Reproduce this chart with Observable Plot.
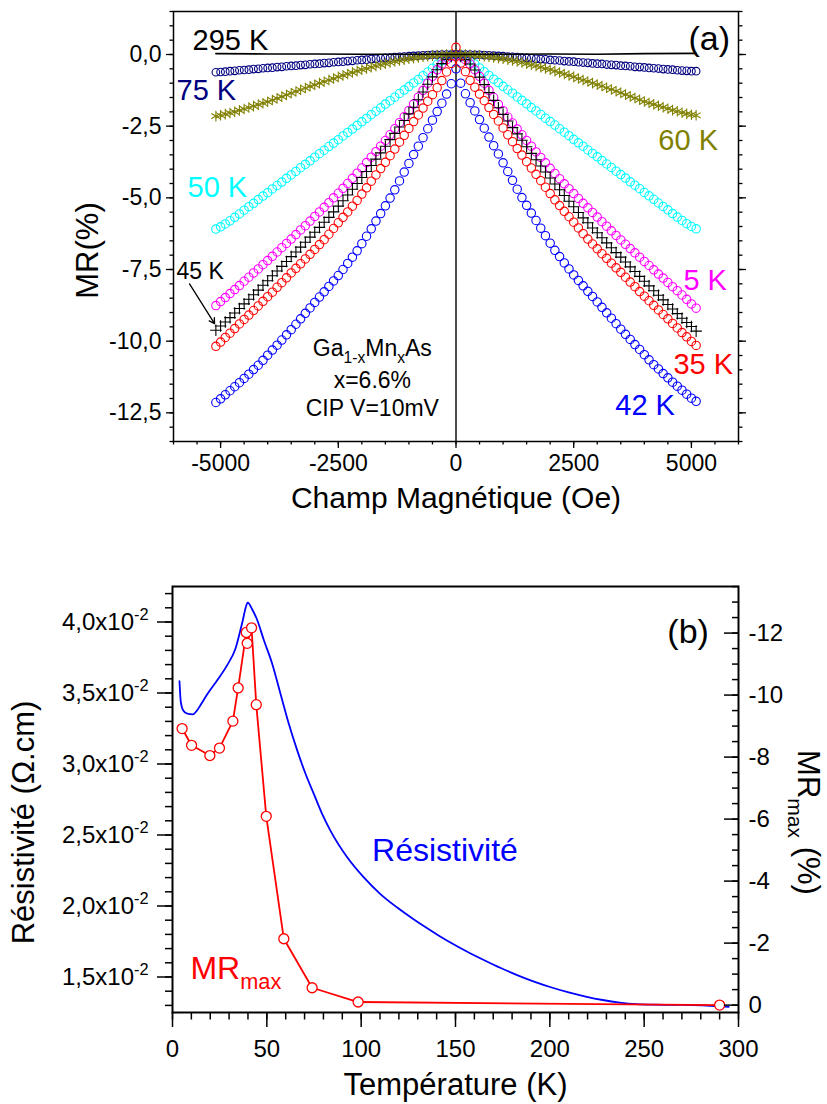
<!DOCTYPE html>
<html><head><meta charset="utf-8">
<script src="https://cdn.jsdelivr.net/npm/d3@7"></script>
<script src="https://cdn.jsdelivr.net/npm/@observablehq/plot@0.6"></script>
<style>
html,body{margin:0;padding:0;background:#fff;}
#chart{position:relative;width:827px;height:1104px;background:#fff;}
#chart svg{display:block;}
</style></head><body><div id="chart"></div>
<script>
const FONT = "'Liberation Sans', Arial, Helvetica, sans-serif";

// ---------- Panel (a): MR(%) vs field (Oe) ----------
const field = [-5100,-5000,-4900,-4800,-4700,-4600,-4500,-4400,-4300,-4200,-4100,-4000,-3900,-3800,-3700,-3600,-3500,-3400,-3300,-3200,-3100,-3000,-2900,-2800,-2700,-2600,-2500,-2400,-2300,-2200,-2100,-2000,-1900,-1800,-1700,-1600,-1500,-1400,-1300,-1200,-1100,-1000,-900,-800,-700,-600,-500,-400,-300,-200,-100,
  0,
  100,200,300,400,500,600,700,800,900,1000,1100,1200,1300,1400,1500,1600,1700,1800,1900,2000,2100,2200,2300,2400,2500,2600,2700,2800,2900,3000,3100,3200,3300,3400,3500,3600,3700,3800,3900,4000,4100,4200,4300,4400,4500,4600,4700,4800,4900,5000,5100];

const mr42K = [-12.14,-12.01,-11.87,-11.73,-11.59,-11.45,-11.30,-11.15,-10.99,-10.84,-10.67,
  -10.49,-10.31,-10.14,-9.96,-9.78,-9.60,-9.41,-9.22,-9.03,-8.84,
  -8.65,-8.46,-8.28,-8.09,-7.90,-7.71,-7.50,-7.29,-7.07,-6.85,
  -6.60,-6.34,-6.08,-5.81,-5.55,-5.28,-5.01,-4.72,-4.41,-4.10,
  -3.80,-3.49,-3.20,-2.90,-2.59,-2.29,-1.99,-1.70,-1.38,-1.02,
  -0.50,
  -1.00,-1.37,-1.68,-1.97,-2.27,-2.57,-2.88,-3.18,-3.47,-3.78,
  -4.08,-4.39,-4.70,-4.99,-5.26,-5.53,-5.79,-6.06,-6.32,-6.58,
  -6.83,-7.05,-7.27,-7.48,-7.69,-7.88,-8.07,-8.26,-8.44,-8.63,
  -8.82,-9.01,-9.20,-9.39,-9.58,-9.76,-9.94,-10.12,-10.29,-10.47,
  -10.65,-10.82,-10.97,-11.13,-11.28,-11.43,-11.57,-11.71,-11.85,-11.99,-12.10];

const mr35K = [-10.18,-10.03,-9.87,-9.72,-9.56,-9.40,-9.24,-9.09,-8.93,-8.77,-8.61,
  -8.45,-8.29,-8.12,-7.96,-7.79,-7.62,-7.46,-7.30,-7.13,-6.97,
  -6.80,-6.63,-6.46,-6.27,-6.07,-5.87,-5.68,-5.49,-5.29,-5.09,
  -4.87,-4.65,-4.42,-4.20,-3.98,-3.76,-3.53,-3.30,-3.06,-2.82,
  -2.58,-2.34,-2.11,-1.87,-1.63,-1.40,-1.16,-0.91,-0.61,-0.31,
  0.25,
  -0.30,-0.60,-0.90,-1.14,-1.38,-1.61,-1.85,-2.09,-2.32,-2.56,
  -2.80,-3.04,-3.28,-3.51,-3.74,-3.96,-4.18,-4.40,-4.63,-4.85,
  -5.07,-5.27,-5.47,-5.66,-5.85,-6.05,-6.25,-6.44,-6.61,-6.78,
  -6.95,-7.11,-7.28,-7.44,-7.60,-7.77,-7.94,-8.10,-8.27,-8.43,
  -8.59,-8.75,-8.91,-9.07,-9.22,-9.38,-9.54,-9.70,-9.85,-10.01,-10.15];

const mr45K = [-9.62,-9.47,-9.33,-9.18,-9.02,-8.86,-8.70,-8.54,-8.38,-8.22,-8.05,
  -7.89,-7.72,-7.55,-7.39,-7.22,-7.05,-6.89,-6.72,-6.55,-6.37,
  -6.20,-6.03,-5.85,-5.68,-5.49,-5.29,-5.10,-4.90,-4.70,-4.50,
  -4.29,-4.08,-3.87,-3.65,-3.43,-3.20,-2.97,-2.75,-2.53,-2.30,
  -2.07,-1.84,-1.58,-1.31,-1.04,-0.78,-0.53,-0.32,-0.17,-0.07,
  0.00,
  -0.07,-0.18,-0.33,-0.54,-0.79,-1.05,-1.33,-1.60,-1.86,-2.09,
  -2.32,-2.55,-2.77,-2.99,-3.22,-3.45,-3.67,-3.89,-4.10,-4.31,
  -4.52,-4.72,-4.92,-5.12,-5.31,-5.51,-5.70,-5.87,-6.05,-6.22,
  -6.39,-6.57,-6.74,-6.91,-7.07,-7.24,-7.41,-7.57,-7.74,-7.91,
  -8.07,-8.24,-8.40,-8.56,-8.72,-8.88,-9.04,-9.20,-9.35,-9.49,-9.65];

const mr5K = [-8.76,-8.62,-8.48,-8.34,-8.20,-8.06,-7.91,-7.77,-7.62,-7.48,-7.33,
  -7.19,-7.04,-6.89,-6.74,-6.59,-6.44,-6.28,-6.12,-5.97,-5.81,
  -5.65,-5.49,-5.33,-5.17,-5.00,-4.84,-4.67,-4.50,-4.32,-4.14,
  -3.96,-3.77,-3.58,-3.39,-3.20,-3.00,-2.80,-2.59,-2.38,-2.17,
  -1.95,-1.73,-1.49,-1.25,-1.00,-0.76,-0.53,-0.33,-0.18,-0.07,
  0.00,
  -0.07,-0.18,-0.33,-0.53,-0.76,-1.00,-1.25,-1.50,-1.74,-1.96,
  -2.18,-2.39,-2.60,-2.80,-3.00,-3.20,-3.40,-3.59,-3.78,-3.97,
  -4.15,-4.33,-4.51,-4.68,-4.85,-5.02,-5.19,-5.35,-5.51,-5.67,
  -5.83,-5.99,-6.15,-6.31,-6.47,-6.62,-6.77,-6.92,-7.07,-7.22,
  -7.36,-7.51,-7.66,-7.80,-7.95,-8.10,-8.24,-8.39,-8.54,-8.70,-8.85];

const mr50K = [-6.09,-6.01,-5.91,-5.80,-5.68,-5.56,-5.43,-5.31,-5.19,-5.06,-4.94,
  -4.82,-4.69,-4.57,-4.45,-4.32,-4.20,-4.08,-3.95,-3.83,-3.71,
  -3.58,-3.46,-3.34,-3.21,-3.09,-2.97,-2.84,-2.72,-2.60,-2.47,
  -2.35,-2.23,-2.10,-1.98,-1.86,-1.73,-1.61,-1.49,-1.36,-1.24,
  -1.12,-0.99,-0.87,-0.74,-0.61,-0.48,-0.34,-0.21,-0.10,-0.03,
  0.00,
  -0.03,-0.10,-0.20,-0.33,-0.47,-0.60,-0.73,-0.86,-0.98,-1.11,
  -1.23,-1.35,-1.48,-1.60,-1.72,-1.85,-1.97,-2.09,-2.22,-2.34,
  -2.46,-2.59,-2.71,-2.83,-2.96,-3.08,-3.20,-3.33,-3.45,-3.57,
  -3.70,-3.82,-3.94,-4.07,-4.19,-4.31,-4.44,-4.56,-4.68,-4.81,
  -4.93,-5.05,-5.18,-5.30,-5.42,-5.55,-5.67,-5.79,-5.90,-6.00,-6.08];

const mr60K = [-2.15,-2.12,-2.08,-2.04,-2.00,-1.95,-1.90,-1.85,-1.80,-1.75,-1.70,
  -1.65,-1.59,-1.53,-1.47,-1.41,-1.35,-1.29,-1.23,-1.17,-1.11,
  -1.06,-1.00,-0.95,-0.89,-0.84,-0.78,-0.73,-0.68,-0.63,-0.58,
  -0.53,-0.49,-0.44,-0.40,-0.36,-0.32,-0.28,-0.24,-0.21,-0.18,
  -0.15,-0.13,-0.10,-0.08,-0.06,-0.04,-0.02,-0.01,0.00,0.00,
  0.00,
  0.00,0.00,-0.01,-0.02,-0.04,-0.06,-0.08,-0.10,-0.13,-0.15,
  -0.18,-0.21,-0.24,-0.28,-0.32,-0.36,-0.40,-0.44,-0.49,-0.53,
  -0.58,-0.63,-0.68,-0.73,-0.78,-0.84,-0.89,-0.94,-1.00,-1.05,
  -1.10,-1.16,-1.22,-1.28,-1.34,-1.40,-1.46,-1.52,-1.58,-1.64,
  -1.69,-1.74,-1.79,-1.84,-1.89,-1.94,-1.98,-2.03,-2.07,-2.10,-2.12];

const mr75K = [-0.62,-0.61,-0.60,-0.58,-0.57,-0.55,-0.54,-0.53,-0.51,-0.50,-0.48,
  -0.47,-0.46,-0.44,-0.43,-0.41,-0.40,-0.39,-0.37,-0.36,-0.34,
  -0.33,-0.32,-0.30,-0.29,-0.27,-0.26,-0.25,-0.23,-0.22,-0.20,
  -0.19,-0.18,-0.16,-0.15,-0.13,-0.12,-0.11,-0.09,-0.08,-0.07,
  -0.06,-0.05,-0.04,-0.03,-0.02,-0.01,-0.01,0.00,0.00,0.00,
  0.00,
  0.00,0.00,0.00,-0.01,-0.01,-0.02,-0.03,-0.04,-0.05,-0.06,
  -0.07,-0.08,-0.09,-0.11,-0.12,-0.13,-0.15,-0.16,-0.17,-0.19,
  -0.20,-0.21,-0.23,-0.24,-0.25,-0.27,-0.28,-0.29,-0.31,-0.32,
  -0.33,-0.35,-0.36,-0.37,-0.39,-0.40,-0.41,-0.43,-0.44,-0.45,
  -0.47,-0.48,-0.49,-0.51,-0.52,-0.53,-0.55,-0.56,-0.57,-0.58,-0.58];

const field295 = [-5100,-4000,-3000,-2000,-1000,0,1000,2000,3000,4000,5100];
const mr295 = [0.03,0.02,0.02,0.01,0.01,0.00,0.01,0.02,0.01,0.03,0.04];

const xTicksA = [-5000,-2500,0,2500,5000];
const yTicksA = [-12.5,-10,-7.5,-5,-2.5,0];

// temperature labels (data coordinates: field, MR)
const labelText = ["295 K","75 K","50 K","60 K","5 K","35 K","42 K"];
const labelH    = [-5596,-5936,-5702,4298,4830,4617,3383];
const labelMR   = [0.49,-1.26,-4.64,-3.0,-7.89,-10.82,-12.26];
const labelCol  = ["#000000","#000080","#00ffff","#808000","#ff00ff","#ff0000","#0000ff"];

const sampleText = ["Ga_{1-x}Mn_{x}As","x=6.6%","CIP V=10mV"];
const sampleMR = [-10.27,-11.38,-12.36];

// ---------- Panel (b): resistivity and MRmax vs T ----------
const tempRho = [3.7,4.4,5.6,7.8,10.8,13.1,14.8,19.3,23.7,29.0,33.4,36.9,39.6,39.9,42.2,44.9,48.4,52.8,57.2,61.6,66.1,70.5,74.9,79.3,83.7,92.6,101.4,110.2,119.1,127.0,134.0,141.0,148.0,156.0,165.0,174.0,183.0,192.0,201.0,210.0,219.0,228.0,237.0,246.0,255.0,271.0,294.8];
const rho = [0.03583,0.03437,0.03379,0.03355,0.03350,0.03379,0.03414,0.03508,0.03590,0.03696,0.03814,0.03991,0.04132,0.04136,0.04090,0.04014,0.03873,0.03708,0.03496,0.03285,0.03096,0.02931,0.02790,0.02649,0.02531,0.02343,0.02201,0.02084,0.01989,0.01914,0.01852,0.01793,0.01738,0.01680,0.01620,0.01563,0.01512,0.01466,0.01426,0.01391,0.01362,0.01338,0.01320,0.01309,0.01305,0.01303,0.01290];

const tempMR = [5.1,10.1,19.8,24.9,32.0,34.8,39.1,39.6,41.9,44.4,49.7,59.0,74.0,98.4,290.0];
const mrMax  = [-8.92,-8.38,-8.05,-8.29,-9.16,-10.23,-12.02,-11.67,-12.17,-9.69,-6.09,-2.14,-0.56,-0.10,0.00];

const xTicksB = [0,50,100,150,200,250,300];
const rhoTicks = [0.015,0.020,0.025,0.030,0.035,0.040];
const mrTicks = [-12,-10,-8,-6,-4,-2,0];

// ---------- helpers ----------
function richify(svg) {
  const ns = "http://www.w3.org/2000/svg";
  svg.querySelectorAll("text").forEach(t => {
    const s = t.textContent;
    if (!/[\^_]\{/.test(s)) return;
    const fs = parseFloat(getComputedStyle(t).fontSize) || 20;
    while (t.firstChild) t.removeChild(t.firstChild);
    const re = /([\^_])\{([^}]*)\}/g;
    let last = 0, m, cur = 0;
    const add = (str, target, small) => {
      const ts = document.createElementNS(ns, "tspan");
      ts.textContent = str;
      const dy = target - cur;
      if (dy) ts.setAttribute("dy", dy);
      if (small) ts.setAttribute("font-size", small);
      cur = target;
      t.appendChild(ts);
    };
    while ((m = re.exec(s))) {
      if (m.index > last) add(s.slice(last, m.index), 0, null);
      const target = m[1] === "^" ? -0.42 * fs : 0.3 * fs;
      add(m[2], target, 0.68 * fs);
      last = m.index + m[0].length;
    }
    if (last < s.length) add(s.slice(last), 0, null);
  });
}

const root = document.getElementById("chart");

// ---------- build panel (a) ----------
const seriesA = [
  {values: mr42K, color: "#0000ff", symbol: "circle", r: 4.2, sw: 1.1},
  {values: mr50K, color: "#00ffff", symbol: "circle", r: 4.2, sw: 1.1},
  {values: mr5K,  color: "#ff00ff", symbol: "circle", r: 4.2, sw: 1.1},
  {values: mr45K, color: "#000000", symbol: "plus", r: 3.8, sw: 1.1},
  {values: mr35K, color: "#ff0000", symbol: "circle", r: 4.2, sw: 1.1},
  {values: mr75K, color: "#000080", symbol: "circle", r: 3.8, sw: 1.1},
  {values: mr60K, color: "#808000", symbol: "asterisk", r: 5, sw: 1.1}
];
const dotMarks = seriesA.map(s =>
  Plot.dot(field.map((h, i) => ({H: h, MR: s.values[i]})), {
    x: "H", y: "MR", r: s.r, symbol: s.symbol, stroke: s.color, fill: "none", strokeWidth: s.sw
  })
);
const rows295 = field295.map((h, i) => ({H: h, MR: mr295[i]}));
const labelsA = labelText.map((t, i) => ({t, H: labelH[i], MR: labelMR[i], c: labelCol[i]}));
const sampleRows = sampleText.map((t, i) => ({t, MR: sampleMR[i]}));
const arrow45 = [{x1: -5660, y1: -8.0, x2: -5128, y2: -9.39}];
const fmtA = d => d.toFixed(1).replace(".", ",");

const plotA = Plot.plot({
  width: 827, height: 530,
  marginLeft: 173, marginRight: 89, marginTop: 11, marginBottom: 89,
  style: {fontFamily: FONT, fontSize: "23px", background: "white", color: "black", overflow: "visible"},
  x: {domain: [-6000, 6000]},
  y: {domain: [-13.5, 1.5]},
  marks: [
    Plot.ruleX([0], {stroke: "black", strokeWidth: 1.4}),
    ...dotMarks,
    Plot.line(rows295, {x: "H", y: "MR", stroke: "black", strokeWidth: 1.6}),
    Plot.arrow(arrow45, {x1: "x1", y1: "y1", x2: "x2", y2: "y2", stroke: "black", strokeWidth: 1.3, headLength: 7}),
    Plot.text(labelsA, {x: "H", y: "MR", text: "t", fill: "c", textAnchor: "start", fontSize: 29}),
    Plot.text(["45 K"], {x: [-5936], y: [-7.58], textAnchor: "start", fontSize: 23, fill: "black"}),
    Plot.text(["(a)"], {x: [4936], y: [0.52], textAnchor: "start", fontSize: 34, fill: "black"}),
    Plot.text(sampleRows, {x: () => -1777, y: "MR", text: "t", textAnchor: "middle", fontSize: 23, fill: "black"}),
    Plot.axisX({ticks: xTicksA, tickSize: 7, tickPadding: 6, tickFormat: d => String(d), fontSize: 23, strokeWidth: 1.3, label: null}),
    Plot.axisX({ticks: d3.range(-6000, 6001, 500), tickSize: 3.5, tickFormat: () => "", strokeWidth: 1.3, label: null}),
    Plot.axisY({ticks: yTicksA, tickSize: 7, tickPadding: 5, tickFormat: fmtA, fontSize: 23, strokeWidth: 1.3, label: null}),
    Plot.axisY({ticks: d3.range(-13.5, 1.51, 0.5), tickSize: 3.5, tickFormat: () => "", strokeWidth: 1.3, label: null}),
    Plot.axisY({anchor: "right", ticks: yTicksA, tickSize: 7, tickFormat: () => "", strokeWidth: 1.3, label: null}),
    Plot.axisY({anchor: "right", ticks: d3.range(-13.5, 1.51, 0.5), tickSize: 3.5, tickFormat: () => "", strokeWidth: 1.3, label: null}),
    Plot.frame({stroke: "black", strokeWidth: 1.5}),
    Plot.text(["Champ Magnétique (Oe)"], {frameAnchor: "bottom", lineAnchor: "middle", textAnchor: "middle", dy: 57, fontSize: 30, fill: "black"}),
    Plot.text(["MR(%)"], {frameAnchor: "left", textAnchor: "middle", lineAnchor: "middle", dx: -85, dy: 24, rotate: -90, fontSize: 31, fill: "black"})
  ]
});
root.appendChild(plotA);

// ---------- build panel (b) ----------
const rhoOfMR = d3.scaleLinear().domain([0, -12]).range([0.01302, 0.03922]);
const rhoRows = tempRho.map((t, i) => ({T: t, rho: rho[i]}));
const mrRows = tempMR.map((t, i) => ({T: t, v: rhoOfMR(mrMax[i])}));
const fmtRho = d => (d * 100).toFixed(1).replace(".", ",") + "x10^{-2}";
const fmtMR = d => String(Math.round(rhoOfMR.invert(d)));

const plotB = Plot.plot({
  width: 827, height: 574,
  marginLeft: 172, marginRight: 89, marginTop: 56, marginBottom: 92,
  style: {fontFamily: FONT, fontSize: "24px", background: "white", color: "black", overflow: "visible"},
  x: {domain: [0, 300]},
  y: {domain: [0.0125, 0.0425]},
  marks: [
    Plot.line(rhoRows, {x: "T", y: "rho", stroke: "#0000ff", strokeWidth: 1.8, curve: "monotone-x"}),
    Plot.line(mrRows, {x: "T", y: "v", stroke: "#ff0000", strokeWidth: 1.8}),
    Plot.dot(mrRows, {x: "T", y: "v", r: 5, fill: "white", stroke: "#ff0000", strokeWidth: 1.3}),
    Plot.text(["(b)"], {x: [262.3], y: [0.0393], textAnchor: "start", fontSize: 34, fill: "black"}),
    Plot.text(["Résistivité"], {x: [105.8], y: [0.0239], textAnchor: "start", fontSize: 32, fill: "#0000ff"}),
    Plot.text(["MR_{max}"], {x: [9.5], y: [0.01556], textAnchor: "start", fontSize: 32, fill: "#ff0000"}),
    Plot.axisX({ticks: xTicksB, tickSize: 15, tickPadding: 12, tickFormat: d => String(d), fontSize: 24, strokeWidth: 1.5, label: null}),
    Plot.axisX({ticks: d3.range(0, 301, 10), tickSize: 7.5, tickFormat: () => "", strokeWidth: 1.5, label: null}),
    Plot.axisY({ticks: rhoTicks, tickSize: 15, tickPadding: 9, tickFormat: fmtRho, fontSize: 24, strokeWidth: 1.5, label: null}),
    Plot.axisY({ticks: d3.range(13, 43, 1).map(v => v / 1000), tickSize: 7, tickFormat: () => "", strokeWidth: 1.5, label: null}),
    Plot.axisY({anchor: "right", ticks: mrTicks.map(m => rhoOfMR(m)), tickSize: 15, insetRight: 15, tickPadding: 10, tickFormat: fmtMR, fontSize: 24, strokeWidth: 1.5, label: null}),
    Plot.axisY({anchor: "right", ticks: d3.range(0, -13.51, -0.5).map(m => rhoOfMR(m)), tickSize: 7, insetRight: 7, tickFormat: () => "", strokeWidth: 1.5, label: null}),
    Plot.frame({stroke: "black", strokeWidth: 2}),
    Plot.text(["Température (K)"], {frameAnchor: "bottom", lineAnchor: "middle", textAnchor: "middle", dy: 73, fontSize: 31, fill: "black"}),
    Plot.text(["Résistivité (Ω.cm)"], {frameAnchor: "left", textAnchor: "middle", lineAnchor: "middle", dx: -148, dy: 23, rotate: -90, fontSize: 31, fill: "black"}),
    Plot.text(["MR_{max} (%)"], {frameAnchor: "right", textAnchor: "middle", lineAnchor: "middle", dx: 69, dy: 23, rotate: 90, fontSize: 31, fill: "black"})
  ]
});
root.appendChild(plotB);

richify(plotA);
richify(plotB);
</script>
</body></html>
